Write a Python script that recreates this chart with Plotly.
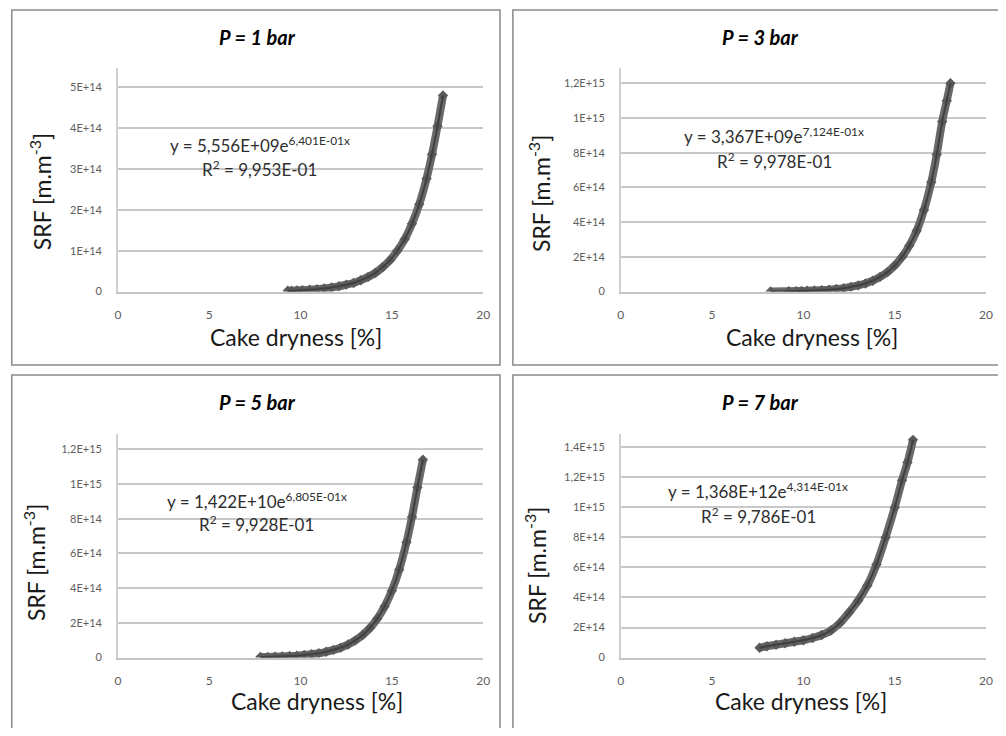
import plotly.graph_objects as go

# cake dryness [%] and SRF [m.m-3]
x_p1 = [9.3, 9.5, 9.8, 10.1, 10.5, 10.9, 11.3, 11.7, 12.1, 12.5, 12.9, 13.3,
        13.7, 14.1, 14.5, 14.9, 15.3, 15.7, 16.1, 16.5, 16.9, 17.2, 17.5, 17.8]
y_p1 = [0.02e14, 0.024e14, 0.03e14, 0.036e14, 0.046e14, 0.06e14, 0.077e14, 0.1e14,
        0.13e14, 0.17e14, 0.21e14, 0.28e14, 0.36e14, 0.46e14, 0.6e14, 0.77e14,
        1.0e14, 1.28e14, 1.66e14, 2.14e14, 2.77e14, 3.36e14, 4.05e14, 4.8e14]

x_p3 = [8.2, 9.2, 9.6, 9.9, 10.2, 10.6, 11.0, 11.4, 11.8, 12.2, 12.6, 13.0, 13.4,
        13.8, 14.2, 14.6, 15.0, 15.4, 15.8, 16.2, 16.6, 17.0, 17.3, 17.6, 17.85, 18.05]
y_p3 = [0.012e14, 0.024e14, 0.031e14, 0.039e14, 0.048e14, 0.064e14, 0.085e14,
        0.11e14, 0.15e14, 0.2e14, 0.27e14, 0.36e14, 0.47e14, 0.63e14, 0.85e14,
        1.12e14, 1.5e14, 2.0e14, 2.65e14, 3.5e14, 4.7e14, 6.3e14, 7.9e14, 9.8e14,
        11.0e14, 12.0e14]

x_p5 = [7.8, 8.2, 8.6, 9.0, 9.4, 9.8, 10.2, 10.6, 11.0, 11.4, 11.8, 12.2, 12.6,
        13.0, 13.4, 13.8, 14.2, 14.6, 15.0, 15.4, 15.8, 16.1, 16.4, 16.7]
y_p5 = [0.03e14, 0.038e14, 0.05e14, 0.065e14, 0.085e14, 0.11e14, 0.15e14, 0.19e14,
        0.25e14, 0.33e14, 0.44e14, 0.57e14, 0.75e14, 0.99e14, 1.3e14, 1.7e14,
        2.24e14, 2.94e14, 3.85e14, 5.06e14, 6.64e14, 8.1e14, 9.8e14, 11.4e14]

x_p7 = [7.6, 8.0, 8.5, 9.0, 9.5, 10.0, 10.5, 11.0, 11.5, 12.0, 12.5, 13.0, 13.5,
        14.0, 14.5, 15.0, 15.4, 15.7, 16.0]
y_p7 = [0.65e14, 0.75e14, 0.85e14, 0.95e14, 1.05e14, 1.15e14, 1.3e14, 1.5e14,
        1.8e14, 2.3e14, 3.0e14, 3.8e14, 4.8e14, 6.2e14, 8.0e14, 10.0e14, 11.8e14,
        13.0e14, 14.5e14]

titles = ["P = 1 bar", "P = 3 bar", "P = 5 bar", "P = 7 bar"]
equations = ["y = 5,556E+09e<sup>6,401E-01x</sup>", "y = 3,367E+09e<sup>7,124E-01x</sup>",
             "y = 1,422E+10e<sup>6,805E-01x</sup>", "y = 1,368E+12e<sup>4,314E-01x</sup>"]
r2_texts = ["R<sup>2</sup> = 9,953E-01", "R<sup>2</sup> = 9,978E-01",
            "R<sup>2</sup> = 9,928E-01", "R<sup>2</sup> = 9,786E-01"]

x_ticks = [0, 5, 10, 15, 20]
y_ticks_p1 = [0, 1e14, 2e14, 3e14, 4e14, 5e14]
y_text_p1 = ["0", "1E+14", "2E+14", "3E+14", "4E+14", "5E+14"]
y_ticks_p3 = [0, 2e14, 4e14, 6e14, 8e14, 1e15, 1.2e15]
y_text_p3 = ["0", "2E+14", "4E+14", "6E+14", "8E+14", "1E+15", "1,2E+15"]
y_ticks_p7 = [0, 2e14, 4e14, 6e14, 8e14, 1e15, 1.2e15, 1.4e15]
y_text_p7 = ["0", "2E+14", "4E+14", "6E+14", "8E+14", "1E+15", "1,2E+15", "1,4E+15"]

# page has an 8px body margin, so the figure is drawn 8px in from the window corner
OFF = 8
W, H = 990, 720
FONT = "Lato"

series = [(x_p1, y_p1), (x_p3, y_p3), (x_p5, y_p5), (x_p7, y_p7)]
yticks = [(y_ticks_p1, y_text_p1), (y_ticks_p3, y_text_p3),
          (y_ticks_p3, y_text_p3), (y_ticks_p7, y_text_p7)]
yranges = [5.485e14, 1.291e15, 1.286e15, 1.486e15]

# positions below are window pixels of the reference: left, right, top, bottom
areas = [(116, 485, 68, 294), (624, 993, 68, 294),
         (116, 485, 438, 663), (624, 993, 438, 663)]
frames = [(8.8, 502, 10, 368), (515, 1010, 10, 368),
          (8.8, 502, 378, 740), (515, 1010, 378, 740)]
title_pos = [(257, 37), (765, 37), (257, 405), (765, 405)]
ytitle_pos = [(38, 193), (542, 195), (32, 567), (538, 570)]
xtitle_pos = [(296, 340), (817, 340), (317, 707), (806, 707)]
eq_pos = [(260, 146), (779, 137), (257, 505), (763, 495)]
r2_pos = [(259, 170), (779, 162), (256, 528), (763, 520)]


def px(x):
    return (x - OFF) / W


def py(y):
    return 1 - (y - OFF) / H


def note(text, pos, size, color, angle=0):
    return dict(text=text, x=px(pos[0]), y=py(pos[1]), xref="paper", yref="paper",
                xanchor="center", yanchor="middle", showarrow=False, textangle=angle,
                font=dict(size=size, color=color))


fig = go.Figure()
layout = dict(width=W, height=H, margin=dict(l=0, r=0, t=0, b=0),
              paper_bgcolor="white", plot_bgcolor="white", showlegend=False,
              font=dict(family=FONT, color="#333333"))
annotations = []
shapes = []

for i in range(4):
    n = "" if i == 0 else str(i + 1)
    xs, ys = series[i]
    fig.add_trace(go.Scatter(x=xs, y=ys, mode="lines+markers",
                             line=dict(color="#6a6a6a", width=8, shape="spline"),
                             marker=dict(symbol="diamond", size=8, color="#5a5a5a"),
                             xaxis="x" + n, yaxis="y" + n))
    fig.add_trace(go.Scatter(x=xs, y=ys, mode="lines",
                             line=dict(color="#404040", width=2, shape="spline"),
                             xaxis="x" + n, yaxis="y" + n))
    l, r, t, b = areas[i]
    layout["xaxis" + n] = dict(domain=[px(l), px(r)], range=[0, 20], anchor="y" + n,
                               tickvals=x_ticks, showgrid=False, zeroline=False,
                               showline=True, linecolor="#c4c4c4", linewidth=1.5,
                               ticks="outside", ticklen=11, tickcolor="rgba(0,0,0,0)",
                               tickfont=dict(size=12, color="#5e5e5e"), fixedrange=True)
    tv, tt = yticks[i]
    layout["yaxis" + n] = dict(domain=[py(b), py(t)], range=[0, yranges[i]], anchor="x" + n,
                               tickvals=tv, ticktext=tt, showgrid=True, gridcolor="#c8c8c8",
                               gridwidth=1.5, zeroline=False, showline=True,
                               linecolor="#d0d0d0", linewidth=1.5, ticks="outside",
                               ticklen=12, tickcolor="rgba(0,0,0,0)",
                               tickfont=dict(size=11, color="#5e5e5e"), fixedrange=True)
    fl, fr, ft, fb = frames[i]
    shapes.append(dict(type="rect", xref="paper", yref="paper", x0=px(fl), x1=px(fr),
                       y0=py(fb), y1=py(ft), line=dict(color="#8a8a8a", width=1.5)))
    annotations.append(note("<b><i>" + titles[i] + "</i></b>", title_pos[i], 20, "#000000"))
    annotations.append(note("SRF [m.m<sup>-3</sup>]", ytitle_pos[i], 23, "#1a1a1a", -90))
    annotations.append(note("Cake dryness [%]", xtitle_pos[i], 23, "#1a1a1a"))
    annotations.append(note(equations[i], eq_pos[i], 17, "#2e2e2e"))
    annotations.append(note(r2_texts[i], r2_pos[i], 17, "#2e2e2e"))

layout["annotations"] = annotations
layout["shapes"] = shapes
fig.update_layout(**layout)
fig.write_html("out.html")
